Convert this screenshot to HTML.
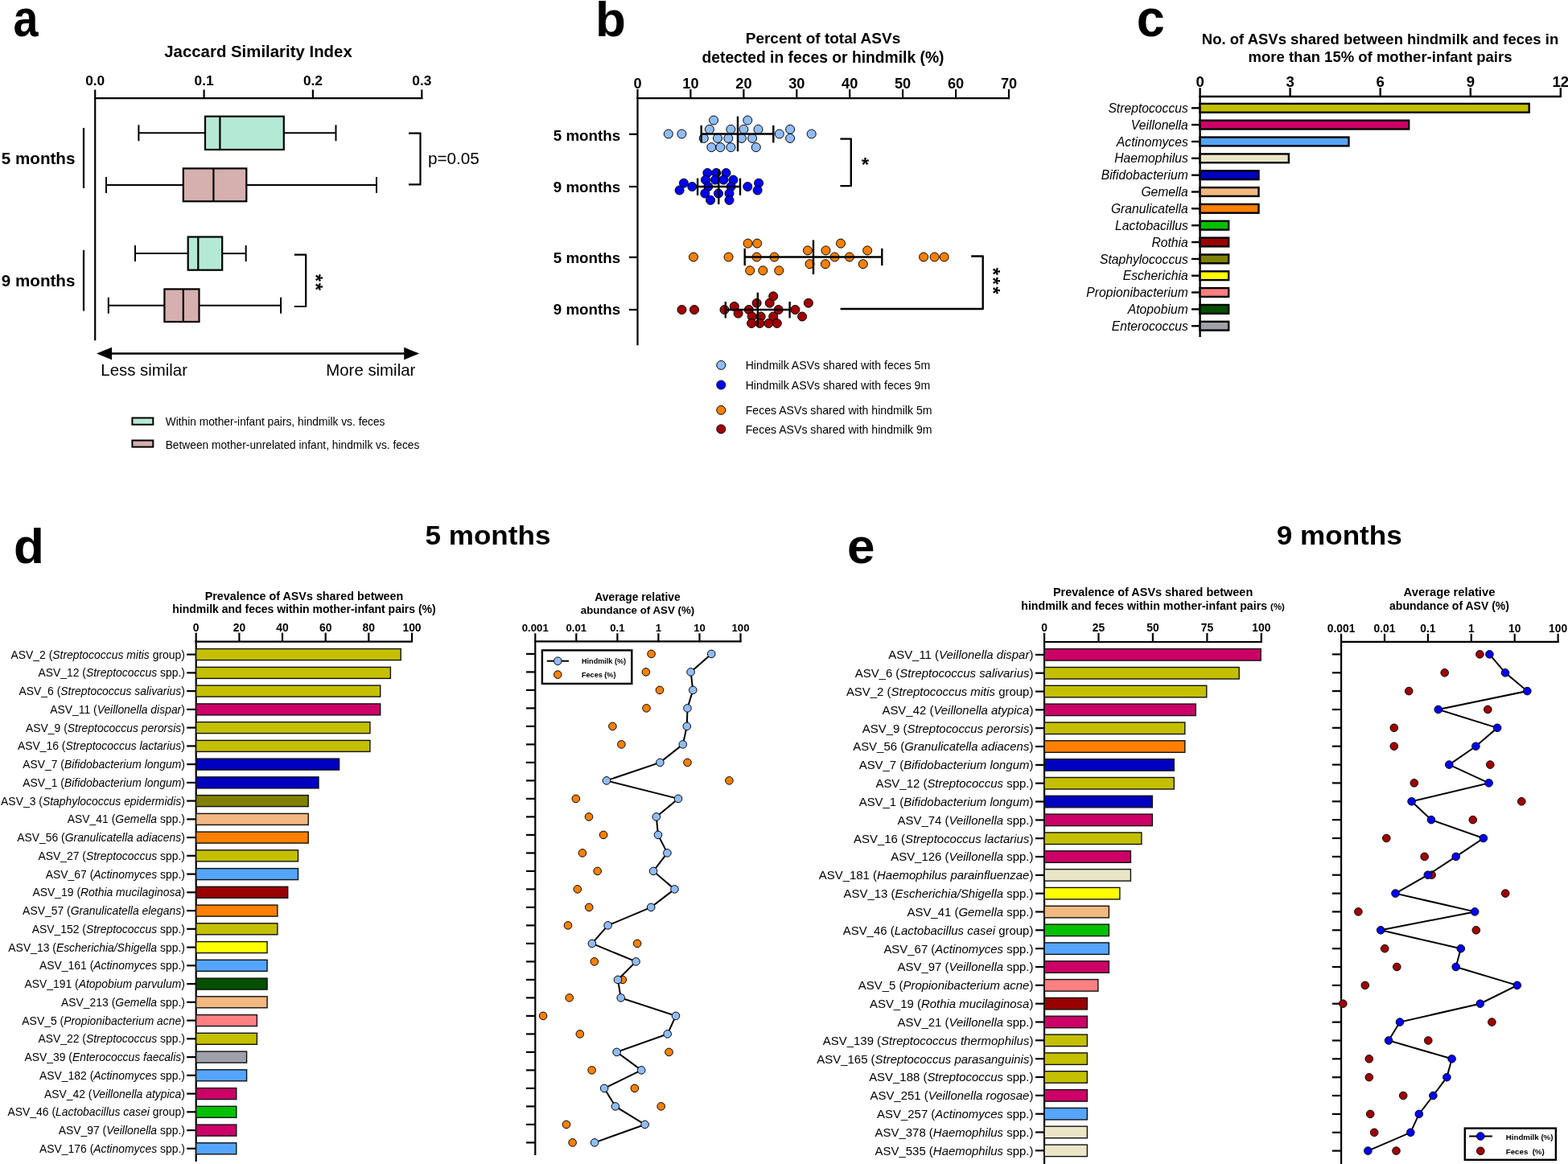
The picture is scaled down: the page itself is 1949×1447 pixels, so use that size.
<!DOCTYPE html>
<html><head><meta charset="utf-8"><title>Figure</title>
<style>html,body{margin:0;padding:0;background:#fff;} svg{display:block;} text{font-family:"Liberation Sans",Arial,sans-serif;fill:#000;}</style>
</head><body>
<svg width="1949" height="1447" viewBox="0 0 1949 1447">
<rect width="1949" height="1447" fill="#fff"/>
<text x="0" y="0" font-size="64" font-weight="bold" transform="translate(16.5,45.3) scale(0.87,1)">a</text>
<text x="321.0" y="70.8" font-size="20.4" font-weight="bold" text-anchor="middle">Jaccard Similarity Index</text>
<line x1="117.2" y1="122.2" x2="525.3" y2="122.2" stroke="#000" stroke-width="2.2"/>
<line x1="118.2" y1="111.5" x2="118.2" y2="123.0" stroke="#000" stroke-width="2.2"/>
<text x="118.2" y="105.9" font-size="17.3" font-weight="bold" text-anchor="middle">0.0</text>
<line x1="253.6" y1="111.5" x2="253.6" y2="123.0" stroke="#000" stroke-width="2.2"/>
<text x="253.6" y="105.9" font-size="17.3" font-weight="bold" text-anchor="middle">0.1</text>
<line x1="388.9" y1="111.5" x2="388.9" y2="123.0" stroke="#000" stroke-width="2.2"/>
<text x="388.9" y="105.9" font-size="17.3" font-weight="bold" text-anchor="middle">0.2</text>
<line x1="524.3" y1="111.5" x2="524.3" y2="123.0" stroke="#000" stroke-width="2.2"/>
<text x="524.3" y="105.9" font-size="17.3" font-weight="bold" text-anchor="middle">0.3</text>
<line x1="118.2" y1="121.0" x2="118.2" y2="423.2" stroke="#000" stroke-width="2.2"/>
<line x1="172.4" y1="165.3" x2="255.0" y2="165.3" stroke="#000" stroke-width="2"/>
<line x1="352.8" y1="165.3" x2="417.5" y2="165.3" stroke="#000" stroke-width="2"/>
<line x1="172.4" y1="155.3" x2="172.4" y2="175.3" stroke="#000" stroke-width="2"/>
<line x1="417.5" y1="155.3" x2="417.5" y2="175.3" stroke="#000" stroke-width="2"/>
<rect x="255.0" y="144.7" width="97.8" height="41.3" fill="#B4E9D5" stroke="#000" stroke-width="2.2"/>
<line x1="273.4" y1="144.7" x2="273.4" y2="186.0" stroke="#000" stroke-width="2.2"/>
<line x1="132.0" y1="229.9" x2="227.8" y2="229.9" stroke="#000" stroke-width="2"/>
<line x1="306.3" y1="229.9" x2="468.0" y2="229.9" stroke="#000" stroke-width="2"/>
<line x1="132.0" y1="219.9" x2="132.0" y2="239.9" stroke="#000" stroke-width="2"/>
<line x1="468.0" y1="219.9" x2="468.0" y2="239.9" stroke="#000" stroke-width="2"/>
<rect x="227.8" y="209.4" width="78.5" height="40.9" fill="#D6AFAF" stroke="#000" stroke-width="2.2"/>
<line x1="265.4" y1="209.4" x2="265.4" y2="250.3" stroke="#000" stroke-width="2.2"/>
<line x1="168.0" y1="315.1" x2="233.7" y2="315.1" stroke="#000" stroke-width="2"/>
<line x1="276.2" y1="315.1" x2="305.7" y2="315.1" stroke="#000" stroke-width="2"/>
<line x1="168.0" y1="305.1" x2="168.0" y2="325.1" stroke="#000" stroke-width="2"/>
<line x1="305.7" y1="305.1" x2="305.7" y2="325.1" stroke="#000" stroke-width="2"/>
<rect x="233.7" y="294.5" width="42.5" height="41.2" fill="#B4E9D5" stroke="#000" stroke-width="2.2"/>
<line x1="246.3" y1="294.5" x2="246.3" y2="335.7" stroke="#000" stroke-width="2.2"/>
<line x1="134.8" y1="379.7" x2="204.4" y2="379.7" stroke="#000" stroke-width="2"/>
<line x1="247.5" y1="379.7" x2="349.1" y2="379.7" stroke="#000" stroke-width="2"/>
<line x1="134.8" y1="369.7" x2="134.8" y2="389.7" stroke="#000" stroke-width="2"/>
<line x1="349.1" y1="369.7" x2="349.1" y2="389.7" stroke="#000" stroke-width="2"/>
<rect x="204.4" y="359.4" width="43.1" height="40.6" fill="#D6AFAF" stroke="#000" stroke-width="2.2"/>
<line x1="227.8" y1="359.4" x2="227.8" y2="400.0" stroke="#000" stroke-width="2.2"/>
<text x="93.4" y="203.9" font-size="20.6" font-weight="bold" text-anchor="end">5 months</text>
<text x="93.4" y="356.2" font-size="20.6" font-weight="bold" text-anchor="end">9 months</text>
<line x1="104.0" y1="159.0" x2="104.0" y2="234.0" stroke="#000" stroke-width="2.2"/>
<line x1="104.0" y1="310.8" x2="104.0" y2="386.5" stroke="#000" stroke-width="2.2"/>
<path d="M508,165.6 H522.5 V229.4 H508" fill="none" stroke="#000" stroke-width="2.2" stroke-linejoin="round"/>
<text x="532.0" y="203.8" font-size="20.7" text-anchor="start">p=0.05</text>
<path d="M365.8,316.6 H380.2 V381 H365.8" fill="none" stroke="#000" stroke-width="2.2" stroke-linejoin="round"/>
<text x="0" y="0" font-size="24" font-weight="bold" text-anchor="middle" transform="translate(383.5,345.5) rotate(90)" dy="0">*</text>
<text x="0" y="0" font-size="24" font-weight="bold" text-anchor="middle" transform="translate(383.5,356.5) rotate(90)" dy="0">*</text>
<line x1="136.0" y1="439.5" x2="505.0" y2="439.5" stroke="#000" stroke-width="2.4"/>
<path d="M120,439.5 L139,431.8 L139,447.2 Z" fill="#000"/>
<path d="M521.2,439.5 L502.2,431.8 L502.2,447.2 Z" fill="#000"/>
<text x="125.3" y="466.9" font-size="20.4" text-anchor="start">Less similar</text>
<text x="516.3" y="466.9" font-size="20.4" text-anchor="end">More similar</text>
<rect x="164.4" y="519.5" width="25.9" height="8.3" fill="#B4E9D5" stroke="#000" stroke-width="2"/>
<rect x="164.4" y="547.5" width="25.9" height="8.1" fill="#D6AFAF" stroke="#000" stroke-width="2"/>
<text x="205.7" y="528.8" font-size="13.75" text-anchor="start">Within mother-infant pairs, hindmilk vs. feces</text>
<text x="205.7" y="557.7" font-size="13.75" text-anchor="start">Between mother-unrelated infant, hindmilk vs. feces</text>
<text x="740.0" y="45.0" font-size="62" font-weight="bold" text-anchor="start">b</text>
<text x="1023.0" y="54.3" font-size="19" font-weight="bold" text-anchor="middle">Percent of total ASVs</text>
<text x="1023.0" y="77.6" font-size="19.3" font-weight="bold" text-anchor="middle">detected in feces or hindmilk (%)</text>
<line x1="791.5" y1="122.2" x2="1255.0" y2="122.2" stroke="#000" stroke-width="2.2"/>
<line x1="792.5" y1="110.9" x2="792.5" y2="123.0" stroke="#000" stroke-width="2.2"/>
<text x="792.5" y="110.1" font-size="18.2" font-weight="bold" text-anchor="middle">0</text>
<line x1="858.4" y1="110.9" x2="858.4" y2="123.0" stroke="#000" stroke-width="2.2"/>
<text x="858.4" y="110.1" font-size="18.2" font-weight="bold" text-anchor="middle">10</text>
<line x1="924.4" y1="110.9" x2="924.4" y2="123.0" stroke="#000" stroke-width="2.2"/>
<text x="924.4" y="110.1" font-size="18.2" font-weight="bold" text-anchor="middle">20</text>
<line x1="990.3" y1="110.9" x2="990.3" y2="123.0" stroke="#000" stroke-width="2.2"/>
<text x="990.3" y="110.1" font-size="18.2" font-weight="bold" text-anchor="middle">30</text>
<line x1="1056.2" y1="110.9" x2="1056.2" y2="123.0" stroke="#000" stroke-width="2.2"/>
<text x="1056.2" y="110.1" font-size="18.2" font-weight="bold" text-anchor="middle">40</text>
<line x1="1122.1" y1="110.9" x2="1122.1" y2="123.0" stroke="#000" stroke-width="2.2"/>
<text x="1122.1" y="110.1" font-size="18.2" font-weight="bold" text-anchor="middle">50</text>
<line x1="1188.1" y1="110.9" x2="1188.1" y2="123.0" stroke="#000" stroke-width="2.2"/>
<text x="1188.1" y="110.1" font-size="18.2" font-weight="bold" text-anchor="middle">60</text>
<line x1="1254.0" y1="110.9" x2="1254.0" y2="123.0" stroke="#000" stroke-width="2.2"/>
<text x="1254.0" y="110.1" font-size="18.2" font-weight="bold" text-anchor="middle">70</text>
<line x1="792.5" y1="121.0" x2="792.5" y2="429.3" stroke="#000" stroke-width="2.2"/>
<line x1="782.0" y1="166.8" x2="792.5" y2="166.8" stroke="#000" stroke-width="2.2"/>
<text x="771.1" y="174.7" font-size="18.75" font-weight="bold" text-anchor="end">5 months</text>
<line x1="782.0" y1="232.0" x2="792.5" y2="232.0" stroke="#000" stroke-width="2.2"/>
<text x="771.1" y="239.4" font-size="18.75" font-weight="bold" text-anchor="end">9 months</text>
<line x1="782.0" y1="319.8" x2="792.5" y2="319.8" stroke="#000" stroke-width="2.2"/>
<text x="771.1" y="326.8" font-size="18.75" font-weight="bold" text-anchor="end">5 months</text>
<line x1="782.0" y1="385.0" x2="792.5" y2="385.0" stroke="#000" stroke-width="2.2"/>
<text x="771.1" y="391.4" font-size="18.75" font-weight="bold" text-anchor="end">9 months</text>
<circle cx="830.8" cy="166.5" r="5.5" fill="#90BDF8" stroke="#000" stroke-width="1"/>
<circle cx="847.4" cy="166.5" r="5.5" fill="#90BDF8" stroke="#000" stroke-width="1"/>
<circle cx="887.1" cy="149.5" r="5.5" fill="#90BDF8" stroke="#000" stroke-width="1"/>
<circle cx="929.3" cy="149.5" r="5.5" fill="#90BDF8" stroke="#000" stroke-width="1"/>
<circle cx="881.9" cy="160.8" r="5.5" fill="#90BDF8" stroke="#000" stroke-width="1"/>
<circle cx="908.4" cy="160.8" r="5.5" fill="#90BDF8" stroke="#000" stroke-width="1"/>
<circle cx="924.4" cy="160.8" r="5.5" fill="#90BDF8" stroke="#000" stroke-width="1"/>
<circle cx="942.5" cy="160.8" r="5.5" fill="#90BDF8" stroke="#000" stroke-width="1"/>
<circle cx="982.1" cy="160.8" r="5.5" fill="#90BDF8" stroke="#000" stroke-width="1"/>
<circle cx="874.8" cy="171.9" r="5.5" fill="#90BDF8" stroke="#000" stroke-width="1"/>
<circle cx="892.0" cy="171.9" r="5.5" fill="#90BDF8" stroke="#000" stroke-width="1"/>
<circle cx="905.3" cy="171.9" r="5.5" fill="#90BDF8" stroke="#000" stroke-width="1"/>
<circle cx="921.9" cy="171.9" r="5.5" fill="#90BDF8" stroke="#000" stroke-width="1"/>
<circle cx="935.1" cy="171.9" r="5.5" fill="#90BDF8" stroke="#000" stroke-width="1"/>
<circle cx="968.8" cy="166.5" r="5.5" fill="#90BDF8" stroke="#000" stroke-width="1"/>
<circle cx="982.1" cy="171.9" r="5.5" fill="#90BDF8" stroke="#000" stroke-width="1"/>
<circle cx="1008.7" cy="166.5" r="5.5" fill="#90BDF8" stroke="#000" stroke-width="1"/>
<circle cx="884.3" cy="183.1" r="5.5" fill="#90BDF8" stroke="#000" stroke-width="1"/>
<circle cx="895.4" cy="183.1" r="5.5" fill="#90BDF8" stroke="#000" stroke-width="1"/>
<circle cx="908.4" cy="183.1" r="5.5" fill="#90BDF8" stroke="#000" stroke-width="1"/>
<circle cx="939.8" cy="183.1" r="5.5" fill="#90BDF8" stroke="#000" stroke-width="1"/>
<circle cx="879.4" cy="215.0" r="5.5" fill="#0000FF" stroke="#000" stroke-width="1"/>
<circle cx="890.2" cy="215.0" r="5.5" fill="#0000FF" stroke="#000" stroke-width="1"/>
<circle cx="902.5" cy="215.0" r="5.5" fill="#0000FF" stroke="#000" stroke-width="1"/>
<circle cx="877.0" cy="223.6" r="5.5" fill="#0000FF" stroke="#000" stroke-width="1"/>
<circle cx="889.0" cy="223.6" r="5.5" fill="#0000FF" stroke="#000" stroke-width="1"/>
<circle cx="899.4" cy="223.6" r="5.5" fill="#0000FF" stroke="#000" stroke-width="1"/>
<circle cx="911.4" cy="223.6" r="5.5" fill="#0000FF" stroke="#000" stroke-width="1"/>
<circle cx="849.9" cy="227.7" r="5.5" fill="#0000FF" stroke="#000" stroke-width="1"/>
<circle cx="860.3" cy="232.0" r="5.5" fill="#0000FF" stroke="#000" stroke-width="1"/>
<circle cx="880.3" cy="232.0" r="5.5" fill="#0000FF" stroke="#000" stroke-width="1"/>
<circle cx="908.7" cy="232.0" r="5.5" fill="#0000FF" stroke="#000" stroke-width="1"/>
<circle cx="929.3" cy="232.0" r="5.5" fill="#0000FF" stroke="#000" stroke-width="1"/>
<circle cx="943.1" cy="227.7" r="5.5" fill="#0000FF" stroke="#000" stroke-width="1"/>
<circle cx="844.6" cy="236.5" r="5.5" fill="#0000FF" stroke="#000" stroke-width="1"/>
<circle cx="876.3" cy="240.5" r="5.5" fill="#0000FF" stroke="#000" stroke-width="1"/>
<circle cx="893.0" cy="240.5" r="5.5" fill="#0000FF" stroke="#000" stroke-width="1"/>
<circle cx="906.5" cy="240.5" r="5.5" fill="#0000FF" stroke="#000" stroke-width="1"/>
<circle cx="941.6" cy="236.5" r="5.5" fill="#0000FF" stroke="#000" stroke-width="1"/>
<circle cx="883.1" cy="248.8" r="5.5" fill="#0000FF" stroke="#000" stroke-width="1"/>
<circle cx="906.5" cy="248.8" r="5.5" fill="#0000FF" stroke="#000" stroke-width="1"/>
<circle cx="862.0" cy="319.5" r="5.5" fill="#FF8000" stroke="#000" stroke-width="1"/>
<circle cx="905.6" cy="319.5" r="5.5" fill="#FF8000" stroke="#000" stroke-width="1"/>
<circle cx="929.6" cy="302.6" r="5.5" fill="#FF8000" stroke="#000" stroke-width="1"/>
<circle cx="941.2" cy="302.6" r="5.5" fill="#FF8000" stroke="#000" stroke-width="1"/>
<circle cx="940.6" cy="319.5" r="5.5" fill="#FF8000" stroke="#000" stroke-width="1"/>
<circle cx="962.5" cy="319.5" r="5.5" fill="#FF8000" stroke="#000" stroke-width="1"/>
<circle cx="932.2" cy="336.3" r="5.5" fill="#FF8000" stroke="#000" stroke-width="1"/>
<circle cx="948.3" cy="336.3" r="5.5" fill="#FF8000" stroke="#000" stroke-width="1"/>
<circle cx="968.3" cy="336.3" r="5.5" fill="#FF8000" stroke="#000" stroke-width="1"/>
<circle cx="1003.9" cy="311.4" r="5.5" fill="#FF8000" stroke="#000" stroke-width="1"/>
<circle cx="1026.5" cy="311.4" r="5.5" fill="#FF8000" stroke="#000" stroke-width="1"/>
<circle cx="1045.0" cy="302.6" r="5.5" fill="#FF8000" stroke="#000" stroke-width="1"/>
<circle cx="1078.2" cy="311.4" r="5.5" fill="#FF8000" stroke="#000" stroke-width="1"/>
<circle cx="1037.5" cy="319.5" r="5.5" fill="#FF8000" stroke="#000" stroke-width="1"/>
<circle cx="1055.9" cy="319.5" r="5.5" fill="#FF8000" stroke="#000" stroke-width="1"/>
<circle cx="1006.5" cy="328.2" r="5.5" fill="#FF8000" stroke="#000" stroke-width="1"/>
<circle cx="1025.9" cy="328.2" r="5.5" fill="#FF8000" stroke="#000" stroke-width="1"/>
<circle cx="1072.8" cy="328.2" r="5.5" fill="#FF8000" stroke="#000" stroke-width="1"/>
<circle cx="1148.1" cy="319.5" r="5.5" fill="#FF8000" stroke="#000" stroke-width="1"/>
<circle cx="1161.6" cy="319.5" r="5.5" fill="#FF8000" stroke="#000" stroke-width="1"/>
<circle cx="1173.6" cy="319.5" r="5.5" fill="#FF8000" stroke="#000" stroke-width="1"/>
<circle cx="847.5" cy="385.0" r="5.5" fill="#A00000" stroke="#000" stroke-width="1"/>
<circle cx="863.0" cy="385.0" r="5.5" fill="#A00000" stroke="#000" stroke-width="1"/>
<circle cx="900.5" cy="385.0" r="5.5" fill="#A00000" stroke="#000" stroke-width="1"/>
<circle cx="912.8" cy="380.9" r="5.5" fill="#A00000" stroke="#000" stroke-width="1"/>
<circle cx="917.6" cy="389.6" r="5.5" fill="#A00000" stroke="#000" stroke-width="1"/>
<circle cx="930.9" cy="385.0" r="5.5" fill="#A00000" stroke="#000" stroke-width="1"/>
<circle cx="940.6" cy="376.7" r="5.5" fill="#A00000" stroke="#000" stroke-width="1"/>
<circle cx="956.7" cy="376.7" r="5.5" fill="#A00000" stroke="#000" stroke-width="1"/>
<circle cx="961.2" cy="368.3" r="5.5" fill="#A00000" stroke="#000" stroke-width="1"/>
<circle cx="967.7" cy="385.0" r="5.5" fill="#A00000" stroke="#000" stroke-width="1"/>
<circle cx="934.7" cy="393.5" r="5.5" fill="#A00000" stroke="#000" stroke-width="1"/>
<circle cx="945.7" cy="393.5" r="5.5" fill="#A00000" stroke="#000" stroke-width="1"/>
<circle cx="961.2" cy="393.5" r="5.5" fill="#A00000" stroke="#000" stroke-width="1"/>
<circle cx="934.1" cy="401.9" r="5.5" fill="#A00000" stroke="#000" stroke-width="1"/>
<circle cx="944.4" cy="401.9" r="5.5" fill="#A00000" stroke="#000" stroke-width="1"/>
<circle cx="955.4" cy="401.9" r="5.5" fill="#A00000" stroke="#000" stroke-width="1"/>
<circle cx="965.8" cy="401.9" r="5.5" fill="#A00000" stroke="#000" stroke-width="1"/>
<circle cx="988.4" cy="385.0" r="5.5" fill="#A00000" stroke="#000" stroke-width="1"/>
<circle cx="1004.9" cy="376.7" r="5.5" fill="#A00000" stroke="#000" stroke-width="1"/>
<circle cx="997.1" cy="393.5" r="5.5" fill="#A00000" stroke="#000" stroke-width="1"/>
<line x1="917.0" y1="144.6" x2="917.0" y2="188.2" stroke="#000" stroke-width="2.4"/>
<line x1="871.7" y1="166.5" x2="961.3" y2="166.5" stroke="#000" stroke-width="2.4"/>
<line x1="871.7" y1="155.9" x2="871.7" y2="177.4" stroke="#000" stroke-width="2.4"/>
<line x1="961.3" y1="155.9" x2="961.3" y2="177.4" stroke="#000" stroke-width="2.4"/>
<line x1="893.3" y1="210.0" x2="893.3" y2="253.9" stroke="#000" stroke-width="2.4"/>
<line x1="867.1" y1="232.0" x2="920.0" y2="232.0" stroke="#000" stroke-width="2.4"/>
<line x1="867.1" y1="221.6" x2="867.1" y2="242.8" stroke="#000" stroke-width="2.4"/>
<line x1="920.0" y1="221.6" x2="920.0" y2="242.8" stroke="#000" stroke-width="2.4"/>
<line x1="1011.0" y1="298.4" x2="1011.0" y2="341.1" stroke="#000" stroke-width="2.4"/>
<line x1="925.7" y1="319.5" x2="1096.3" y2="319.5" stroke="#000" stroke-width="2.4"/>
<line x1="925.7" y1="308.8" x2="925.7" y2="330.1" stroke="#000" stroke-width="2.4"/>
<line x1="1096.3" y1="308.8" x2="1096.3" y2="330.1" stroke="#000" stroke-width="2.4"/>
<line x1="941.8" y1="363.7" x2="941.8" y2="405.7" stroke="#000" stroke-width="2.4"/>
<line x1="901.8" y1="385.0" x2="981.6" y2="385.0" stroke="#000" stroke-width="2.4"/>
<line x1="901.8" y1="375.0" x2="901.8" y2="395.4" stroke="#000" stroke-width="2.4"/>
<line x1="981.6" y1="375.0" x2="981.6" y2="395.4" stroke="#000" stroke-width="2.4"/>
<path d="M1044.4,172.6 H1057.8 V231.1 H1044.4" fill="none" stroke="#000" stroke-width="2.4" stroke-linejoin="round"/>
<text x="1075.5" y="213.4" font-size="24" font-weight="bold" text-anchor="middle">*</text>
<path d="M1207.2,318.5 H1221.7 V384 H1044.6" fill="none" stroke="#000" stroke-width="2.4" stroke-linejoin="round"/>
<text x="0" y="0" font-size="24" font-weight="bold" text-anchor="middle" transform="translate(1225.5,337.4) rotate(90)" dy="0">*</text>
<text x="0" y="0" font-size="24" font-weight="bold" text-anchor="middle" transform="translate(1225.5,349.2) rotate(90)" dy="0">*</text>
<text x="0" y="0" font-size="24" font-weight="bold" text-anchor="middle" transform="translate(1225.5,361.0) rotate(90)" dy="0">*</text>
<circle cx="896.3" cy="453.9" r="5.5" fill="#90BDF8" stroke="#000" stroke-width="1"/>
<text x="926.7" y="459.0" font-size="14.1" text-anchor="start">Hindmilk ASVs shared with feces 5m</text>
<circle cx="896.3" cy="478.5" r="5.5" fill="#0000FF" stroke="#000" stroke-width="1"/>
<text x="926.7" y="483.6" font-size="14.1" text-anchor="start">Hindmilk ASVs shared with feces 9m</text>
<circle cx="896.3" cy="509.8" r="5.5" fill="#FF8000" stroke="#000" stroke-width="1"/>
<text x="926.7" y="514.9" font-size="14.1" text-anchor="start">Feces ASVs shared with hindmilk 5m</text>
<circle cx="896.3" cy="533.4" r="5.5" fill="#A00000" stroke="#000" stroke-width="1"/>
<text x="926.7" y="538.5" font-size="14.1" text-anchor="start">Feces ASVs shared with hindmilk 9m</text>
<text x="0" y="0" font-size="64" font-weight="bold" transform="translate(1412.8,44.6) scale(0.985,1)">c</text>
<text x="1715.5" y="54.6" font-size="18.5" font-weight="bold" text-anchor="middle">No. of ASVs shared between hindmilk and feces in</text>
<text x="1715.5" y="77.0" font-size="18.5" font-weight="bold" text-anchor="middle">more than 15% of mother-infant pairs</text>
<line x1="1490.6" y1="120.0" x2="1940.8" y2="120.0" stroke="#000" stroke-width="2.4"/>
<line x1="1491.6" y1="109.2" x2="1491.6" y2="121.0" stroke="#000" stroke-width="2.4"/>
<text x="1491.6" y="108.0" font-size="18.6" font-weight="bold" text-anchor="middle">0</text>
<line x1="1603.6" y1="109.2" x2="1603.6" y2="121.0" stroke="#000" stroke-width="2.4"/>
<text x="1603.6" y="108.0" font-size="18.6" font-weight="bold" text-anchor="middle">3</text>
<line x1="1715.7" y1="109.2" x2="1715.7" y2="121.0" stroke="#000" stroke-width="2.4"/>
<text x="1715.7" y="108.0" font-size="18.6" font-weight="bold" text-anchor="middle">6</text>
<line x1="1827.8" y1="109.2" x2="1827.8" y2="121.0" stroke="#000" stroke-width="2.4"/>
<text x="1827.8" y="108.0" font-size="18.6" font-weight="bold" text-anchor="middle">9</text>
<line x1="1939.8" y1="109.2" x2="1939.8" y2="121.0" stroke="#000" stroke-width="2.4"/>
<text x="1939.8" y="108.0" font-size="18.6" font-weight="bold" text-anchor="middle">12</text>
<line x1="1491.6" y1="119.0" x2="1491.6" y2="419.1" stroke="#000" stroke-width="2.4"/>
<line x1="1481.0" y1="134.3" x2="1491.6" y2="134.3" stroke="#000" stroke-width="2.4"/>
<rect x="1491.6" y="128.9" width="409.1" height="10.8" fill="#C4C000" stroke="#000" stroke-width="2.4"/>
<text x="1476.8" y="139.9" font-size="15.7" font-style="italic" text-anchor="end">Streptococcus</text>
<line x1="1481.0" y1="155.1" x2="1491.6" y2="155.1" stroke="#000" stroke-width="2.4"/>
<rect x="1491.6" y="149.7" width="259.6" height="10.8" fill="#CC0066" stroke="#000" stroke-width="2.4"/>
<text x="1476.8" y="160.7" font-size="15.7" font-style="italic" text-anchor="end">Veillonella</text>
<line x1="1481.0" y1="176.0" x2="1491.6" y2="176.0" stroke="#000" stroke-width="2.4"/>
<rect x="1491.6" y="170.6" width="184.9" height="10.8" fill="#55A5FF" stroke="#000" stroke-width="2.4"/>
<text x="1476.8" y="181.6" font-size="15.7" font-style="italic" text-anchor="end">Actinomyces</text>
<line x1="1481.0" y1="196.8" x2="1491.6" y2="196.8" stroke="#000" stroke-width="2.4"/>
<rect x="1491.6" y="191.4" width="110.3" height="10.8" fill="#EBE5C8" stroke="#000" stroke-width="2.4"/>
<text x="1476.8" y="202.4" font-size="15.7" font-style="italic" text-anchor="end">Haemophilus</text>
<line x1="1481.0" y1="217.7" x2="1491.6" y2="217.7" stroke="#000" stroke-width="2.4"/>
<rect x="1491.6" y="212.3" width="72.9" height="10.8" fill="#0000C0" stroke="#000" stroke-width="2.4"/>
<text x="1476.8" y="223.3" font-size="15.7" font-style="italic" text-anchor="end">Bifidobacterium</text>
<line x1="1481.0" y1="238.5" x2="1491.6" y2="238.5" stroke="#000" stroke-width="2.4"/>
<rect x="1491.6" y="233.1" width="72.9" height="10.8" fill="#F2B880" stroke="#000" stroke-width="2.4"/>
<text x="1476.8" y="244.1" font-size="15.7" font-style="italic" text-anchor="end">Gemella</text>
<line x1="1481.0" y1="259.3" x2="1491.6" y2="259.3" stroke="#000" stroke-width="2.4"/>
<rect x="1491.6" y="253.9" width="72.9" height="10.8" fill="#FF8000" stroke="#000" stroke-width="2.4"/>
<text x="1476.8" y="264.9" font-size="15.7" font-style="italic" text-anchor="end">Granulicatella</text>
<line x1="1481.0" y1="280.2" x2="1491.6" y2="280.2" stroke="#000" stroke-width="2.4"/>
<rect x="1491.6" y="274.8" width="35.6" height="10.8" fill="#00C000" stroke="#000" stroke-width="2.4"/>
<text x="1476.8" y="285.8" font-size="15.7" font-style="italic" text-anchor="end">Lactobacillus</text>
<line x1="1481.0" y1="301.0" x2="1491.6" y2="301.0" stroke="#000" stroke-width="2.4"/>
<rect x="1491.6" y="295.6" width="35.6" height="10.8" fill="#990000" stroke="#000" stroke-width="2.4"/>
<text x="1476.8" y="306.6" font-size="15.7" font-style="italic" text-anchor="end">Rothia</text>
<line x1="1481.0" y1="321.9" x2="1491.6" y2="321.9" stroke="#000" stroke-width="2.4"/>
<rect x="1491.6" y="316.5" width="35.6" height="10.8" fill="#808000" stroke="#000" stroke-width="2.4"/>
<text x="1476.8" y="327.5" font-size="15.7" font-style="italic" text-anchor="end">Staphylococcus</text>
<line x1="1481.0" y1="342.7" x2="1491.6" y2="342.7" stroke="#000" stroke-width="2.4"/>
<rect x="1491.6" y="337.3" width="35.6" height="10.8" fill="#FFFF00" stroke="#000" stroke-width="2.4"/>
<text x="1476.8" y="348.3" font-size="15.7" font-style="italic" text-anchor="end">Escherichia</text>
<line x1="1481.0" y1="363.5" x2="1491.6" y2="363.5" stroke="#000" stroke-width="2.4"/>
<rect x="1491.6" y="358.1" width="35.6" height="10.8" fill="#FF8080" stroke="#000" stroke-width="2.4"/>
<text x="1476.8" y="369.1" font-size="15.7" font-style="italic" text-anchor="end">Propionibacterium</text>
<line x1="1481.0" y1="384.4" x2="1491.6" y2="384.4" stroke="#000" stroke-width="2.4"/>
<rect x="1491.6" y="379.0" width="35.6" height="10.8" fill="#005000" stroke="#000" stroke-width="2.4"/>
<text x="1476.8" y="390.0" font-size="15.7" font-style="italic" text-anchor="end">Atopobium</text>
<line x1="1481.0" y1="405.2" x2="1491.6" y2="405.2" stroke="#000" stroke-width="2.4"/>
<rect x="1491.6" y="399.8" width="35.6" height="10.8" fill="#A0A0A8" stroke="#000" stroke-width="2.4"/>
<text x="1476.8" y="410.8" font-size="15.7" font-style="italic" text-anchor="end">Enterococcus</text>
<text x="17.0" y="700.0" font-size="62" font-weight="bold" text-anchor="start">d</text>
<text x="0" y="0" font-size="33.6" font-weight="bold" transform="translate(528.4,677.3) scale(1.045,1)">5 months</text>
<text x="378.0" y="745.5" font-size="14.35" font-weight="bold" text-anchor="middle">Prevalence of ASVs shared between</text>
<text x="378.0" y="762.2" font-size="14.0" font-weight="bold" text-anchor="middle">hindmilk and feces within mother-infant pairs (%)</text>
<line x1="242.7" y1="797.6" x2="513.0" y2="797.6" stroke="#000" stroke-width="2.2"/>
<line x1="243.7" y1="786.6" x2="243.7" y2="798.0" stroke="#000" stroke-width="2.2"/>
<text x="243.7" y="785.1" font-size="13.9" font-weight="bold" text-anchor="middle">0</text>
<line x1="297.4" y1="786.6" x2="297.4" y2="798.0" stroke="#000" stroke-width="2.2"/>
<text x="297.4" y="785.1" font-size="13.9" font-weight="bold" text-anchor="middle">20</text>
<line x1="351.0" y1="786.6" x2="351.0" y2="798.0" stroke="#000" stroke-width="2.2"/>
<text x="351.0" y="785.1" font-size="13.9" font-weight="bold" text-anchor="middle">40</text>
<line x1="404.7" y1="786.6" x2="404.7" y2="798.0" stroke="#000" stroke-width="2.2"/>
<text x="404.7" y="785.1" font-size="13.9" font-weight="bold" text-anchor="middle">60</text>
<line x1="458.3" y1="786.6" x2="458.3" y2="798.0" stroke="#000" stroke-width="2.2"/>
<text x="458.3" y="785.1" font-size="13.9" font-weight="bold" text-anchor="middle">80</text>
<line x1="512.0" y1="786.6" x2="512.0" y2="798.0" stroke="#000" stroke-width="2.2"/>
<text x="512.0" y="785.1" font-size="13.9" font-weight="bold" text-anchor="middle">100</text>
<line x1="243.7" y1="796.0" x2="243.7" y2="1444.0" stroke="#000" stroke-width="2.2"/>
<line x1="232.2" y1="813.6" x2="243.7" y2="813.6" stroke="#000" stroke-width="2.2"/>
<rect x="243.7" y="806.6" width="254.5" height="14.0" fill="#C4C000" stroke="#111" stroke-width="1.4"/>
<text x="229.9" y="818.6" font-size="13.92" text-anchor="end">ASV_2 (<tspan font-style="italic">Streptococcus mitis</tspan> group)</text>
<line x1="232.2" y1="836.4" x2="243.7" y2="836.4" stroke="#000" stroke-width="2.2"/>
<rect x="243.7" y="829.4" width="241.7" height="14.0" fill="#C4C000" stroke="#111" stroke-width="1.4"/>
<text x="229.9" y="841.4" font-size="13.92" text-anchor="end">ASV_12 (<tspan font-style="italic">Streptococcus</tspan> spp.)</text>
<line x1="232.2" y1="859.1" x2="243.7" y2="859.1" stroke="#000" stroke-width="2.2"/>
<rect x="243.7" y="852.1" width="229.0" height="14.0" fill="#C4C000" stroke="#111" stroke-width="1.4"/>
<text x="229.9" y="864.1" font-size="13.92" text-anchor="end">ASV_6 (<tspan font-style="italic">Streptococcus salivarius</tspan>)</text>
<line x1="232.2" y1="881.9" x2="243.7" y2="881.9" stroke="#000" stroke-width="2.2"/>
<rect x="243.7" y="874.9" width="229.0" height="14.0" fill="#CC0066" stroke="#111" stroke-width="1.4"/>
<text x="229.9" y="886.9" font-size="13.92" text-anchor="end">ASV_11 (<tspan font-style="italic">Veillonella dispar</tspan>)</text>
<line x1="232.2" y1="904.6" x2="243.7" y2="904.6" stroke="#000" stroke-width="2.2"/>
<rect x="243.7" y="897.6" width="216.2" height="14.0" fill="#C4C000" stroke="#111" stroke-width="1.4"/>
<text x="229.9" y="909.6" font-size="13.92" text-anchor="end">ASV_9 (<tspan font-style="italic">Streptococcus perorsis</tspan>)</text>
<line x1="232.2" y1="927.4" x2="243.7" y2="927.4" stroke="#000" stroke-width="2.2"/>
<rect x="243.7" y="920.4" width="216.2" height="14.0" fill="#C4C000" stroke="#111" stroke-width="1.4"/>
<text x="229.9" y="932.4" font-size="13.92" text-anchor="end">ASV_16 (<tspan font-style="italic">Streptococcus lactarius</tspan>)</text>
<line x1="232.2" y1="950.1" x2="243.7" y2="950.1" stroke="#000" stroke-width="2.2"/>
<rect x="243.7" y="943.1" width="177.9" height="14.0" fill="#0000C0" stroke="#111" stroke-width="1.4"/>
<text x="229.9" y="955.1" font-size="13.92" text-anchor="end">ASV_7 (<tspan font-style="italic">Bifidobacterium longum</tspan>)</text>
<line x1="232.2" y1="972.9" x2="243.7" y2="972.9" stroke="#000" stroke-width="2.2"/>
<rect x="243.7" y="965.9" width="152.3" height="14.0" fill="#0000C0" stroke="#111" stroke-width="1.4"/>
<text x="229.9" y="977.9" font-size="13.92" text-anchor="end">ASV_1 (<tspan font-style="italic">Bifidobacterium longum</tspan>)</text>
<line x1="232.2" y1="995.6" x2="243.7" y2="995.6" stroke="#000" stroke-width="2.2"/>
<rect x="243.7" y="988.6" width="139.5" height="14.0" fill="#808000" stroke="#111" stroke-width="1.4"/>
<text x="229.9" y="1000.6" font-size="13.92" text-anchor="end">ASV_3 (<tspan font-style="italic">Staphylococcus epidermidis</tspan>)</text>
<line x1="232.2" y1="1018.4" x2="243.7" y2="1018.4" stroke="#000" stroke-width="2.2"/>
<rect x="243.7" y="1011.4" width="139.5" height="14.0" fill="#F2B880" stroke="#111" stroke-width="1.4"/>
<text x="229.9" y="1023.4" font-size="13.92" text-anchor="end">ASV_41 (<tspan font-style="italic">Gemella</tspan> spp.)</text>
<line x1="232.2" y1="1041.1" x2="243.7" y2="1041.1" stroke="#000" stroke-width="2.2"/>
<rect x="243.7" y="1034.1" width="139.5" height="14.0" fill="#FF8000" stroke="#111" stroke-width="1.4"/>
<text x="229.9" y="1046.1" font-size="13.92" text-anchor="end">ASV_56 (<tspan font-style="italic">Granulicatella adiacens</tspan>)</text>
<line x1="232.2" y1="1063.8" x2="243.7" y2="1063.8" stroke="#000" stroke-width="2.2"/>
<rect x="243.7" y="1056.8" width="126.8" height="14.0" fill="#C4C000" stroke="#111" stroke-width="1.4"/>
<text x="229.9" y="1068.8" font-size="13.92" text-anchor="end">ASV_27 (<tspan font-style="italic">Streptococcus</tspan> spp.)</text>
<line x1="232.2" y1="1086.6" x2="243.7" y2="1086.6" stroke="#000" stroke-width="2.2"/>
<rect x="243.7" y="1079.6" width="126.8" height="14.0" fill="#55A5FF" stroke="#111" stroke-width="1.4"/>
<text x="229.9" y="1091.6" font-size="13.92" text-anchor="end">ASV_67 (<tspan font-style="italic">Actinomyces</tspan> spp.)</text>
<line x1="232.2" y1="1109.3" x2="243.7" y2="1109.3" stroke="#000" stroke-width="2.2"/>
<rect x="243.7" y="1102.3" width="114.0" height="14.0" fill="#990000" stroke="#111" stroke-width="1.4"/>
<text x="229.9" y="1114.3" font-size="13.92" text-anchor="end">ASV_19 (<tspan font-style="italic">Rothia mucilaginosa</tspan>)</text>
<line x1="232.2" y1="1132.1" x2="243.7" y2="1132.1" stroke="#000" stroke-width="2.2"/>
<rect x="243.7" y="1125.1" width="101.2" height="14.0" fill="#FF8000" stroke="#111" stroke-width="1.4"/>
<text x="229.9" y="1137.1" font-size="13.92" text-anchor="end">ASV_57 (<tspan font-style="italic">Granulicatella elegans</tspan>)</text>
<line x1="232.2" y1="1154.8" x2="243.7" y2="1154.8" stroke="#000" stroke-width="2.2"/>
<rect x="243.7" y="1147.8" width="101.2" height="14.0" fill="#C4C000" stroke="#111" stroke-width="1.4"/>
<text x="229.9" y="1159.8" font-size="13.92" text-anchor="end">ASV_152 (<tspan font-style="italic">Streptococcus</tspan> spp.)</text>
<line x1="232.2" y1="1177.6" x2="243.7" y2="1177.6" stroke="#000" stroke-width="2.2"/>
<rect x="243.7" y="1170.6" width="88.4" height="14.0" fill="#FFFF00" stroke="#111" stroke-width="1.4"/>
<text x="229.9" y="1182.6" font-size="13.92" text-anchor="end">ASV_13 (<tspan font-style="italic">Escherichia/Shigella</tspan> spp.)</text>
<line x1="232.2" y1="1200.3" x2="243.7" y2="1200.3" stroke="#000" stroke-width="2.2"/>
<rect x="243.7" y="1193.3" width="88.4" height="14.0" fill="#55A5FF" stroke="#111" stroke-width="1.4"/>
<text x="229.9" y="1205.3" font-size="13.92" text-anchor="end">ASV_161 (<tspan font-style="italic">Actinomyces</tspan> spp.)</text>
<line x1="232.2" y1="1223.1" x2="243.7" y2="1223.1" stroke="#000" stroke-width="2.2"/>
<rect x="243.7" y="1216.1" width="88.4" height="14.0" fill="#005000" stroke="#111" stroke-width="1.4"/>
<text x="229.9" y="1228.1" font-size="13.92" text-anchor="end">ASV_191 (<tspan font-style="italic">Atopobium parvulum</tspan>)</text>
<line x1="232.2" y1="1245.8" x2="243.7" y2="1245.8" stroke="#000" stroke-width="2.2"/>
<rect x="243.7" y="1238.8" width="88.4" height="14.0" fill="#F2B880" stroke="#111" stroke-width="1.4"/>
<text x="229.9" y="1250.8" font-size="13.92" text-anchor="end">ASV_213 (<tspan font-style="italic">Gemella</tspan> spp.)</text>
<line x1="232.2" y1="1268.6" x2="243.7" y2="1268.6" stroke="#000" stroke-width="2.2"/>
<rect x="243.7" y="1261.6" width="75.7" height="14.0" fill="#FF8080" stroke="#111" stroke-width="1.4"/>
<text x="229.9" y="1273.6" font-size="13.92" text-anchor="end">ASV_5 (<tspan font-style="italic">Propionibacterium acne</tspan>)</text>
<line x1="232.2" y1="1291.3" x2="243.7" y2="1291.3" stroke="#000" stroke-width="2.2"/>
<rect x="243.7" y="1284.3" width="75.7" height="14.0" fill="#C4C000" stroke="#111" stroke-width="1.4"/>
<text x="229.9" y="1296.3" font-size="13.92" text-anchor="end">ASV_22 (<tspan font-style="italic">Streptococcus</tspan> spp.)</text>
<line x1="232.2" y1="1314.1" x2="243.7" y2="1314.1" stroke="#000" stroke-width="2.2"/>
<rect x="243.7" y="1307.1" width="62.9" height="14.0" fill="#A0A0A8" stroke="#111" stroke-width="1.4"/>
<text x="229.9" y="1319.1" font-size="13.92" text-anchor="end">ASV_39 (<tspan font-style="italic">Enterococcus faecalis</tspan>)</text>
<line x1="232.2" y1="1336.8" x2="243.7" y2="1336.8" stroke="#000" stroke-width="2.2"/>
<rect x="243.7" y="1329.8" width="62.9" height="14.0" fill="#55A5FF" stroke="#111" stroke-width="1.4"/>
<text x="229.9" y="1341.8" font-size="13.92" text-anchor="end">ASV_182 (<tspan font-style="italic">Actinomyces</tspan> spp.)</text>
<line x1="232.2" y1="1359.6" x2="243.7" y2="1359.6" stroke="#000" stroke-width="2.2"/>
<rect x="243.7" y="1352.6" width="50.1" height="14.0" fill="#CC0066" stroke="#111" stroke-width="1.4"/>
<text x="229.9" y="1364.6" font-size="13.92" text-anchor="end">ASV_42 (<tspan font-style="italic">Veillonella atypica</tspan>)</text>
<line x1="232.2" y1="1382.3" x2="243.7" y2="1382.3" stroke="#000" stroke-width="2.2"/>
<rect x="243.7" y="1375.3" width="50.1" height="14.0" fill="#00C000" stroke="#111" stroke-width="1.4"/>
<text x="229.9" y="1387.3" font-size="13.92" text-anchor="end">ASV_46 (<tspan font-style="italic">Lactobacillus casei</tspan> group)</text>
<line x1="232.2" y1="1405.1" x2="243.7" y2="1405.1" stroke="#000" stroke-width="2.2"/>
<rect x="243.7" y="1398.1" width="50.1" height="14.0" fill="#CC0066" stroke="#111" stroke-width="1.4"/>
<text x="229.9" y="1410.1" font-size="13.92" text-anchor="end">ASV_97 (<tspan font-style="italic">Veillonella</tspan> spp.)</text>
<line x1="232.2" y1="1427.8" x2="243.7" y2="1427.8" stroke="#000" stroke-width="2.2"/>
<rect x="243.7" y="1420.8" width="50.1" height="14.0" fill="#55A5FF" stroke="#111" stroke-width="1.4"/>
<text x="229.9" y="1432.8" font-size="13.92" text-anchor="end">ASV_176 (<tspan font-style="italic">Actinomyces</tspan> spp.)</text>
<text x="792.5" y="747.0" font-size="13.85" font-weight="bold" text-anchor="middle">Average relative</text>
<text x="792.5" y="762.8" font-size="13.3" font-weight="bold" text-anchor="middle">abundance of ASV (%)</text>
<line x1="664.3" y1="797.3" x2="921.5" y2="797.3" stroke="#000" stroke-width="2.2"/>
<line x1="665.3" y1="787.3" x2="665.3" y2="798.3" stroke="#000" stroke-width="2.2"/>
<text x="665.3" y="784.7" font-size="13.2" font-weight="bold" text-anchor="middle">0.001</text>
<line x1="716.3" y1="787.3" x2="716.3" y2="798.3" stroke="#000" stroke-width="2.2"/>
<text x="716.3" y="784.7" font-size="13.2" font-weight="bold" text-anchor="middle">0.01</text>
<line x1="767.4" y1="787.3" x2="767.4" y2="798.3" stroke="#000" stroke-width="2.2"/>
<text x="767.4" y="784.7" font-size="13.2" font-weight="bold" text-anchor="middle">0.1</text>
<line x1="818.4" y1="787.3" x2="818.4" y2="798.3" stroke="#000" stroke-width="2.2"/>
<text x="818.4" y="784.7" font-size="13.2" font-weight="bold" text-anchor="middle">1</text>
<line x1="869.5" y1="787.3" x2="869.5" y2="798.3" stroke="#000" stroke-width="2.2"/>
<text x="869.5" y="784.7" font-size="13.2" font-weight="bold" text-anchor="middle">10</text>
<line x1="920.5" y1="787.3" x2="920.5" y2="798.3" stroke="#000" stroke-width="2.2"/>
<text x="920.5" y="784.7" font-size="13.2" font-weight="bold" text-anchor="middle">100</text>
<line x1="665.3" y1="796.3" x2="665.3" y2="1436.1" stroke="#000" stroke-width="2.2"/>
<line x1="654.0" y1="812.9" x2="665.3" y2="812.9" stroke="#000" stroke-width="2.2"/>
<line x1="654.0" y1="835.4" x2="665.3" y2="835.4" stroke="#000" stroke-width="2.2"/>
<line x1="654.0" y1="857.9" x2="665.3" y2="857.9" stroke="#000" stroke-width="2.2"/>
<line x1="654.0" y1="880.4" x2="665.3" y2="880.4" stroke="#000" stroke-width="2.2"/>
<line x1="654.0" y1="902.9" x2="665.3" y2="902.9" stroke="#000" stroke-width="2.2"/>
<line x1="654.0" y1="925.4" x2="665.3" y2="925.4" stroke="#000" stroke-width="2.2"/>
<line x1="654.0" y1="947.9" x2="665.3" y2="947.9" stroke="#000" stroke-width="2.2"/>
<line x1="654.0" y1="970.4" x2="665.3" y2="970.4" stroke="#000" stroke-width="2.2"/>
<line x1="654.0" y1="992.9" x2="665.3" y2="992.9" stroke="#000" stroke-width="2.2"/>
<line x1="654.0" y1="1015.4" x2="665.3" y2="1015.4" stroke="#000" stroke-width="2.2"/>
<line x1="654.0" y1="1037.9" x2="665.3" y2="1037.9" stroke="#000" stroke-width="2.2"/>
<line x1="654.0" y1="1060.4" x2="665.3" y2="1060.4" stroke="#000" stroke-width="2.2"/>
<line x1="654.0" y1="1082.9" x2="665.3" y2="1082.9" stroke="#000" stroke-width="2.2"/>
<line x1="654.0" y1="1105.4" x2="665.3" y2="1105.4" stroke="#000" stroke-width="2.2"/>
<line x1="654.0" y1="1127.9" x2="665.3" y2="1127.9" stroke="#000" stroke-width="2.2"/>
<line x1="654.0" y1="1150.4" x2="665.3" y2="1150.4" stroke="#000" stroke-width="2.2"/>
<line x1="654.0" y1="1172.9" x2="665.3" y2="1172.9" stroke="#000" stroke-width="2.2"/>
<line x1="654.0" y1="1195.4" x2="665.3" y2="1195.4" stroke="#000" stroke-width="2.2"/>
<line x1="654.0" y1="1217.9" x2="665.3" y2="1217.9" stroke="#000" stroke-width="2.2"/>
<line x1="654.0" y1="1240.4" x2="665.3" y2="1240.4" stroke="#000" stroke-width="2.2"/>
<line x1="654.0" y1="1262.9" x2="665.3" y2="1262.9" stroke="#000" stroke-width="2.2"/>
<line x1="654.0" y1="1285.4" x2="665.3" y2="1285.4" stroke="#000" stroke-width="2.2"/>
<line x1="654.0" y1="1307.9" x2="665.3" y2="1307.9" stroke="#000" stroke-width="2.2"/>
<line x1="654.0" y1="1330.4" x2="665.3" y2="1330.4" stroke="#000" stroke-width="2.2"/>
<line x1="654.0" y1="1352.9" x2="665.3" y2="1352.9" stroke="#000" stroke-width="2.2"/>
<line x1="654.0" y1="1375.4" x2="665.3" y2="1375.4" stroke="#000" stroke-width="2.2"/>
<line x1="654.0" y1="1397.9" x2="665.3" y2="1397.9" stroke="#000" stroke-width="2.2"/>
<line x1="654.0" y1="1420.4" x2="665.3" y2="1420.4" stroke="#000" stroke-width="2.2"/>
<circle cx="809.6" cy="812.9" r="4.8" fill="#FF8000" stroke="#000" stroke-width="1"/>
<circle cx="802.9" cy="835.4" r="4.8" fill="#FF8000" stroke="#000" stroke-width="1"/>
<circle cx="820.0" cy="857.9" r="4.8" fill="#FF8000" stroke="#000" stroke-width="1"/>
<circle cx="803.5" cy="880.4" r="4.8" fill="#FF8000" stroke="#000" stroke-width="1"/>
<circle cx="761.4" cy="902.9" r="4.8" fill="#FF8000" stroke="#000" stroke-width="1"/>
<circle cx="772.4" cy="925.4" r="4.8" fill="#FF8000" stroke="#000" stroke-width="1"/>
<circle cx="854.5" cy="947.9" r="4.8" fill="#FF8000" stroke="#000" stroke-width="1"/>
<circle cx="906.4" cy="970.4" r="4.8" fill="#FF8000" stroke="#000" stroke-width="1"/>
<circle cx="715.8" cy="992.9" r="4.8" fill="#FF8000" stroke="#000" stroke-width="1"/>
<circle cx="732.0" cy="1015.4" r="4.8" fill="#FF8000" stroke="#000" stroke-width="1"/>
<circle cx="750.1" cy="1037.9" r="4.8" fill="#FF8000" stroke="#000" stroke-width="1"/>
<circle cx="723.9" cy="1060.4" r="4.8" fill="#FF8000" stroke="#000" stroke-width="1"/>
<circle cx="742.7" cy="1082.9" r="4.8" fill="#FF8000" stroke="#000" stroke-width="1"/>
<circle cx="717.8" cy="1105.4" r="4.8" fill="#FF8000" stroke="#000" stroke-width="1"/>
<circle cx="732.2" cy="1127.9" r="4.8" fill="#FF8000" stroke="#000" stroke-width="1"/>
<circle cx="706.0" cy="1150.4" r="4.8" fill="#FF8000" stroke="#000" stroke-width="1"/>
<circle cx="792.1" cy="1172.9" r="4.8" fill="#FF8000" stroke="#000" stroke-width="1"/>
<circle cx="738.8" cy="1195.4" r="4.8" fill="#FF8000" stroke="#000" stroke-width="1"/>
<circle cx="773.8" cy="1217.9" r="4.8" fill="#FF8000" stroke="#000" stroke-width="1"/>
<circle cx="707.7" cy="1240.4" r="4.8" fill="#FF8000" stroke="#000" stroke-width="1"/>
<circle cx="675.1" cy="1262.9" r="4.8" fill="#FF8000" stroke="#000" stroke-width="1"/>
<circle cx="720.8" cy="1285.4" r="4.8" fill="#FF8000" stroke="#000" stroke-width="1"/>
<circle cx="831.5" cy="1307.9" r="4.8" fill="#FF8000" stroke="#000" stroke-width="1"/>
<circle cx="735.6" cy="1330.4" r="4.8" fill="#FF8000" stroke="#000" stroke-width="1"/>
<circle cx="788.9" cy="1352.9" r="4.8" fill="#FF8000" stroke="#000" stroke-width="1"/>
<circle cx="821.7" cy="1375.4" r="4.8" fill="#FF8000" stroke="#000" stroke-width="1"/>
<circle cx="704.0" cy="1397.9" r="4.8" fill="#FF8000" stroke="#000" stroke-width="1"/>
<circle cx="711.6" cy="1420.4" r="4.8" fill="#FF8000" stroke="#000" stroke-width="1"/>
<polyline points="884.2,812.9 858.6,835.4 861.3,857.9 854.5,880.4 853.8,902.9 848.8,925.4 820.4,947.9 753.9,970.4 843.0,992.9 815.8,1015.4 818.0,1037.9 829.4,1060.4 812.1,1082.9 838.5,1105.4 809.2,1127.9 755.6,1150.4 735.9,1172.9 790.5,1195.4 768.0,1217.9 771.7,1240.4 840.0,1262.9 829.7,1285.4 766.6,1307.9 797.2,1330.4 751.1,1352.9 764.9,1375.4 801.6,1397.9 739.1,1420.4" fill="none" stroke="#000" stroke-width="2"/>
<circle cx="884.2" cy="812.9" r="4.8" fill="#90BDF8" stroke="#000" stroke-width="1"/>
<circle cx="858.6" cy="835.4" r="4.8" fill="#90BDF8" stroke="#000" stroke-width="1"/>
<circle cx="861.3" cy="857.9" r="4.8" fill="#90BDF8" stroke="#000" stroke-width="1"/>
<circle cx="854.5" cy="880.4" r="4.8" fill="#90BDF8" stroke="#000" stroke-width="1"/>
<circle cx="853.8" cy="902.9" r="4.8" fill="#90BDF8" stroke="#000" stroke-width="1"/>
<circle cx="848.8" cy="925.4" r="4.8" fill="#90BDF8" stroke="#000" stroke-width="1"/>
<circle cx="820.4" cy="947.9" r="4.8" fill="#90BDF8" stroke="#000" stroke-width="1"/>
<circle cx="753.9" cy="970.4" r="4.8" fill="#90BDF8" stroke="#000" stroke-width="1"/>
<circle cx="843.0" cy="992.9" r="4.8" fill="#90BDF8" stroke="#000" stroke-width="1"/>
<circle cx="815.8" cy="1015.4" r="4.8" fill="#90BDF8" stroke="#000" stroke-width="1"/>
<circle cx="818.0" cy="1037.9" r="4.8" fill="#90BDF8" stroke="#000" stroke-width="1"/>
<circle cx="829.4" cy="1060.4" r="4.8" fill="#90BDF8" stroke="#000" stroke-width="1"/>
<circle cx="812.1" cy="1082.9" r="4.8" fill="#90BDF8" stroke="#000" stroke-width="1"/>
<circle cx="838.5" cy="1105.4" r="4.8" fill="#90BDF8" stroke="#000" stroke-width="1"/>
<circle cx="809.2" cy="1127.9" r="4.8" fill="#90BDF8" stroke="#000" stroke-width="1"/>
<circle cx="755.6" cy="1150.4" r="4.8" fill="#90BDF8" stroke="#000" stroke-width="1"/>
<circle cx="735.9" cy="1172.9" r="4.8" fill="#90BDF8" stroke="#000" stroke-width="1"/>
<circle cx="790.5" cy="1195.4" r="4.8" fill="#90BDF8" stroke="#000" stroke-width="1"/>
<circle cx="768.0" cy="1217.9" r="4.8" fill="#90BDF8" stroke="#000" stroke-width="1"/>
<circle cx="771.7" cy="1240.4" r="4.8" fill="#90BDF8" stroke="#000" stroke-width="1"/>
<circle cx="840.0" cy="1262.9" r="4.8" fill="#90BDF8" stroke="#000" stroke-width="1"/>
<circle cx="829.7" cy="1285.4" r="4.8" fill="#90BDF8" stroke="#000" stroke-width="1"/>
<circle cx="766.6" cy="1307.9" r="4.8" fill="#90BDF8" stroke="#000" stroke-width="1"/>
<circle cx="797.2" cy="1330.4" r="4.8" fill="#90BDF8" stroke="#000" stroke-width="1"/>
<circle cx="751.1" cy="1352.9" r="4.8" fill="#90BDF8" stroke="#000" stroke-width="1"/>
<circle cx="764.9" cy="1375.4" r="4.8" fill="#90BDF8" stroke="#000" stroke-width="1"/>
<circle cx="801.6" cy="1397.9" r="4.8" fill="#90BDF8" stroke="#000" stroke-width="1"/>
<circle cx="739.1" cy="1420.4" r="4.8" fill="#90BDF8" stroke="#000" stroke-width="1"/>
<rect x="673.9" y="808.4" width="111.4" height="41.5" fill="#fff" stroke="#000" stroke-width="2.4"/>
<line x1="679.8" y1="821.7" x2="707.0" y2="821.7" stroke="#000" stroke-width="2"/>
<circle cx="693.3" cy="821.7" r="4.8" fill="#90BDF8" stroke="#000" stroke-width="1"/>
<circle cx="693.3" cy="838.6" r="4.8" fill="#FF8000" stroke="#000" stroke-width="1"/>
<text x="723.0" y="825.1" font-size="9.1" font-weight="bold" text-anchor="start">Hindmilk (%)</text>
<text x="723.0" y="842.2" font-size="9.1" font-weight="bold" text-anchor="start">Feces (%)</text>
<text x="1053.0" y="700.0" font-size="62" font-weight="bold" text-anchor="start">e</text>
<text x="0" y="0" font-size="33.6" font-weight="bold" transform="translate(1586.7,677.3) scale(1.045,1)">9 months</text>
<text x="1433.1" y="741.3" font-size="14.45" font-weight="bold" text-anchor="middle">Prevalence of ASVs shared between</text>
<text x="1433.1" y="757.9" font-size="14.2" font-weight="bold" text-anchor="middle">hindmilk and feces within mother-infant pairs <tspan font-size="11.5">(%)</tspan></text>
<line x1="1297.1" y1="798.0" x2="1568.8" y2="798.0" stroke="#000" stroke-width="2.2"/>
<line x1="1298.1" y1="786.9" x2="1298.1" y2="799.0" stroke="#000" stroke-width="2.2"/>
<text x="1298.1" y="785.4" font-size="13.9" font-weight="bold" text-anchor="middle">0</text>
<line x1="1365.5" y1="786.9" x2="1365.5" y2="799.0" stroke="#000" stroke-width="2.2"/>
<text x="1365.5" y="785.4" font-size="13.9" font-weight="bold" text-anchor="middle">25</text>
<line x1="1432.9" y1="786.9" x2="1432.9" y2="799.0" stroke="#000" stroke-width="2.2"/>
<text x="1432.9" y="785.4" font-size="13.9" font-weight="bold" text-anchor="middle">50</text>
<line x1="1500.4" y1="786.9" x2="1500.4" y2="799.0" stroke="#000" stroke-width="2.2"/>
<text x="1500.4" y="785.4" font-size="13.9" font-weight="bold" text-anchor="middle">75</text>
<line x1="1567.8" y1="786.9" x2="1567.8" y2="799.0" stroke="#000" stroke-width="2.2"/>
<text x="1567.8" y="785.4" font-size="13.9" font-weight="bold" text-anchor="middle">100</text>
<line x1="1298.1" y1="797.0" x2="1298.1" y2="1447.0" stroke="#000" stroke-width="2.2"/>
<line x1="1287.0" y1="813.9" x2="1298.1" y2="813.9" stroke="#000" stroke-width="2.2"/>
<rect x="1298.1" y="806.6" width="269.1" height="14.5" fill="#CC0066" stroke="#111" stroke-width="1.4"/>
<text x="1284.4" y="819.2" font-size="14.95" text-anchor="end">ASV_11 (<tspan font-style="italic">Veillonella dispar</tspan>)</text>
<line x1="1287.0" y1="836.7" x2="1298.1" y2="836.7" stroke="#000" stroke-width="2.2"/>
<rect x="1298.1" y="829.5" width="242.1" height="14.5" fill="#C4C000" stroke="#111" stroke-width="1.4"/>
<text x="1284.4" y="842.0" font-size="14.95" text-anchor="end">ASV_6 (<tspan font-style="italic">Streptococcus salivarius</tspan>)</text>
<line x1="1287.0" y1="859.6" x2="1298.1" y2="859.6" stroke="#000" stroke-width="2.2"/>
<rect x="1298.1" y="852.3" width="201.7" height="14.5" fill="#C4C000" stroke="#111" stroke-width="1.4"/>
<text x="1284.4" y="864.9" font-size="14.95" text-anchor="end">ASV_2 (<tspan font-style="italic">Streptococcus mitis</tspan> group)</text>
<line x1="1287.0" y1="882.4" x2="1298.1" y2="882.4" stroke="#000" stroke-width="2.2"/>
<rect x="1298.1" y="875.1" width="188.2" height="14.5" fill="#CC0066" stroke="#111" stroke-width="1.4"/>
<text x="1284.4" y="887.7" font-size="14.95" text-anchor="end">ASV_42 (<tspan font-style="italic">Veillonella atypica</tspan>)</text>
<line x1="1287.0" y1="905.2" x2="1298.1" y2="905.2" stroke="#000" stroke-width="2.2"/>
<rect x="1298.1" y="898.0" width="174.7" height="14.5" fill="#C4C000" stroke="#111" stroke-width="1.4"/>
<text x="1284.4" y="910.5" font-size="14.95" text-anchor="end">ASV_9 (<tspan font-style="italic">Streptococcus perorsis</tspan>)</text>
<line x1="1287.0" y1="928.0" x2="1298.1" y2="928.0" stroke="#000" stroke-width="2.2"/>
<rect x="1298.1" y="920.8" width="174.7" height="14.5" fill="#FF8000" stroke="#111" stroke-width="1.4"/>
<text x="1284.4" y="933.3" font-size="14.95" text-anchor="end">ASV_56 (<tspan font-style="italic">Granulicatella adiacens</tspan>)</text>
<line x1="1287.0" y1="950.9" x2="1298.1" y2="950.9" stroke="#000" stroke-width="2.2"/>
<rect x="1298.1" y="943.6" width="161.2" height="14.5" fill="#0000C0" stroke="#111" stroke-width="1.4"/>
<text x="1284.4" y="956.2" font-size="14.95" text-anchor="end">ASV_7 (<tspan font-style="italic">Bifidobacterium longum</tspan>)</text>
<line x1="1287.0" y1="973.7" x2="1298.1" y2="973.7" stroke="#000" stroke-width="2.2"/>
<rect x="1298.1" y="966.5" width="161.2" height="14.5" fill="#C4C000" stroke="#111" stroke-width="1.4"/>
<text x="1284.4" y="979.0" font-size="14.95" text-anchor="end">ASV_12 (<tspan font-style="italic">Streptococcus</tspan> spp.)</text>
<line x1="1287.0" y1="996.5" x2="1298.1" y2="996.5" stroke="#000" stroke-width="2.2"/>
<rect x="1298.1" y="989.3" width="134.3" height="14.5" fill="#0000C0" stroke="#111" stroke-width="1.4"/>
<text x="1284.4" y="1001.8" font-size="14.95" text-anchor="end">ASV_1 (<tspan font-style="italic">Bifidobacterium longum</tspan>)</text>
<line x1="1287.0" y1="1019.4" x2="1298.1" y2="1019.4" stroke="#000" stroke-width="2.2"/>
<rect x="1298.1" y="1012.1" width="134.3" height="14.5" fill="#CC0066" stroke="#111" stroke-width="1.4"/>
<text x="1284.4" y="1024.7" font-size="14.95" text-anchor="end">ASV_74 (<tspan font-style="italic">Veillonella</tspan> spp.)</text>
<line x1="1287.0" y1="1042.2" x2="1298.1" y2="1042.2" stroke="#000" stroke-width="2.2"/>
<rect x="1298.1" y="1035.0" width="120.8" height="14.5" fill="#C4C000" stroke="#111" stroke-width="1.4"/>
<text x="1284.4" y="1047.5" font-size="14.95" text-anchor="end">ASV_16 (<tspan font-style="italic">Streptococcus lactarius</tspan>)</text>
<line x1="1287.0" y1="1065.0" x2="1298.1" y2="1065.0" stroke="#000" stroke-width="2.2"/>
<rect x="1298.1" y="1057.8" width="107.3" height="14.5" fill="#CC0066" stroke="#111" stroke-width="1.4"/>
<text x="1284.4" y="1070.3" font-size="14.95" text-anchor="end">ASV_126 (<tspan font-style="italic">Veillonella</tspan> spp.)</text>
<line x1="1287.0" y1="1087.9" x2="1298.1" y2="1087.9" stroke="#000" stroke-width="2.2"/>
<rect x="1298.1" y="1080.6" width="107.3" height="14.5" fill="#EBE5C8" stroke="#111" stroke-width="1.4"/>
<text x="1284.4" y="1093.2" font-size="14.95" text-anchor="end">ASV_181 (<tspan font-style="italic">Haemophilus parainfluenzae</tspan>)</text>
<line x1="1287.0" y1="1110.7" x2="1298.1" y2="1110.7" stroke="#000" stroke-width="2.2"/>
<rect x="1298.1" y="1103.4" width="93.8" height="14.5" fill="#FFFF00" stroke="#111" stroke-width="1.4"/>
<text x="1284.4" y="1116.0" font-size="14.95" text-anchor="end">ASV_13 (<tspan font-style="italic">Escherichia/Shigella</tspan> spp.)</text>
<line x1="1287.0" y1="1133.5" x2="1298.1" y2="1133.5" stroke="#000" stroke-width="2.2"/>
<rect x="1298.1" y="1126.3" width="80.3" height="14.5" fill="#F2B880" stroke="#111" stroke-width="1.4"/>
<text x="1284.4" y="1138.8" font-size="14.95" text-anchor="end">ASV_41 (<tspan font-style="italic">Gemella</tspan> spp.)</text>
<line x1="1287.0" y1="1156.3" x2="1298.1" y2="1156.3" stroke="#000" stroke-width="2.2"/>
<rect x="1298.1" y="1149.1" width="80.3" height="14.5" fill="#00C000" stroke="#111" stroke-width="1.4"/>
<text x="1284.4" y="1161.6" font-size="14.95" text-anchor="end">ASV_46 (<tspan font-style="italic">Lactobacillus casei</tspan> group)</text>
<line x1="1287.0" y1="1179.2" x2="1298.1" y2="1179.2" stroke="#000" stroke-width="2.2"/>
<rect x="1298.1" y="1171.9" width="80.3" height="14.5" fill="#55A5FF" stroke="#111" stroke-width="1.4"/>
<text x="1284.4" y="1184.5" font-size="14.95" text-anchor="end">ASV_67 (<tspan font-style="italic">Actinomyces</tspan> spp.)</text>
<line x1="1287.0" y1="1202.0" x2="1298.1" y2="1202.0" stroke="#000" stroke-width="2.2"/>
<rect x="1298.1" y="1194.8" width="80.3" height="14.5" fill="#CC0066" stroke="#111" stroke-width="1.4"/>
<text x="1284.4" y="1207.3" font-size="14.95" text-anchor="end">ASV_97 (<tspan font-style="italic">Veillonella</tspan> spp.)</text>
<line x1="1287.0" y1="1224.8" x2="1298.1" y2="1224.8" stroke="#000" stroke-width="2.2"/>
<rect x="1298.1" y="1217.6" width="66.8" height="14.5" fill="#FF8080" stroke="#111" stroke-width="1.4"/>
<text x="1284.4" y="1230.1" font-size="14.95" text-anchor="end">ASV_5 (<tspan font-style="italic">Propionibacterium acne</tspan>)</text>
<line x1="1287.0" y1="1247.7" x2="1298.1" y2="1247.7" stroke="#000" stroke-width="2.2"/>
<rect x="1298.1" y="1240.4" width="53.3" height="14.5" fill="#990000" stroke="#111" stroke-width="1.4"/>
<text x="1284.4" y="1253.0" font-size="14.95" text-anchor="end">ASV_19 (<tspan font-style="italic">Rothia mucilaginosa</tspan>)</text>
<line x1="1287.0" y1="1270.5" x2="1298.1" y2="1270.5" stroke="#000" stroke-width="2.2"/>
<rect x="1298.1" y="1263.2" width="53.3" height="14.5" fill="#CC0066" stroke="#111" stroke-width="1.4"/>
<text x="1284.4" y="1275.8" font-size="14.95" text-anchor="end">ASV_21 (<tspan font-style="italic">Veillonella</tspan> spp.)</text>
<line x1="1287.0" y1="1293.3" x2="1298.1" y2="1293.3" stroke="#000" stroke-width="2.2"/>
<rect x="1298.1" y="1286.1" width="53.3" height="14.5" fill="#C4C000" stroke="#111" stroke-width="1.4"/>
<text x="1284.4" y="1298.6" font-size="14.95" text-anchor="end">ASV_139 (<tspan font-style="italic">Streptococcus thermophilus</tspan>)</text>
<line x1="1287.0" y1="1316.2" x2="1298.1" y2="1316.2" stroke="#000" stroke-width="2.2"/>
<rect x="1298.1" y="1308.9" width="53.3" height="14.5" fill="#C4C000" stroke="#111" stroke-width="1.4"/>
<text x="1284.4" y="1321.5" font-size="14.95" text-anchor="end">ASV_165 (<tspan font-style="italic">Streptococcus parasanguinis</tspan>)</text>
<line x1="1287.0" y1="1339.0" x2="1298.1" y2="1339.0" stroke="#000" stroke-width="2.2"/>
<rect x="1298.1" y="1331.7" width="53.3" height="14.5" fill="#C4C000" stroke="#111" stroke-width="1.4"/>
<text x="1284.4" y="1344.3" font-size="14.95" text-anchor="end">ASV_188 (<tspan font-style="italic">Streptococcus</tspan> spp.)</text>
<line x1="1287.0" y1="1361.8" x2="1298.1" y2="1361.8" stroke="#000" stroke-width="2.2"/>
<rect x="1298.1" y="1354.6" width="53.3" height="14.5" fill="#CC0066" stroke="#111" stroke-width="1.4"/>
<text x="1284.4" y="1367.1" font-size="14.95" text-anchor="end">ASV_251 (<tspan font-style="italic">Veillonella rogosae</tspan>)</text>
<line x1="1287.0" y1="1384.7" x2="1298.1" y2="1384.7" stroke="#000" stroke-width="2.2"/>
<rect x="1298.1" y="1377.4" width="53.3" height="14.5" fill="#55A5FF" stroke="#111" stroke-width="1.4"/>
<text x="1284.4" y="1390.0" font-size="14.95" text-anchor="end">ASV_257 (<tspan font-style="italic">Actinomyces</tspan> spp.)</text>
<line x1="1287.0" y1="1407.5" x2="1298.1" y2="1407.5" stroke="#000" stroke-width="2.2"/>
<rect x="1298.1" y="1400.2" width="53.3" height="14.5" fill="#EBE5C8" stroke="#111" stroke-width="1.4"/>
<text x="1284.4" y="1412.8" font-size="14.95" text-anchor="end">ASV_378 (<tspan font-style="italic">Haemophilus</tspan> spp.)</text>
<line x1="1287.0" y1="1430.3" x2="1298.1" y2="1430.3" stroke="#000" stroke-width="2.2"/>
<rect x="1298.1" y="1423.1" width="53.3" height="14.5" fill="#EBE5C8" stroke="#111" stroke-width="1.4"/>
<text x="1284.4" y="1435.6" font-size="14.95" text-anchor="end">ASV_535 (<tspan font-style="italic">Haemophilus</tspan> spp.)</text>
<text x="1801.5" y="741.2" font-size="14.8" font-weight="bold" text-anchor="middle">Average relative</text>
<text x="1801.5" y="757.7" font-size="14.0" font-weight="bold" text-anchor="middle">abundance of ASV (%)</text>
<line x1="1666.1" y1="797.8" x2="1937.6" y2="797.8" stroke="#000" stroke-width="2.2"/>
<line x1="1667.1" y1="787.8" x2="1667.1" y2="798.8" stroke="#000" stroke-width="2.2"/>
<text x="1667.1" y="785.6" font-size="13.8" font-weight="bold" text-anchor="middle">0.001</text>
<line x1="1721.0" y1="787.8" x2="1721.0" y2="798.8" stroke="#000" stroke-width="2.2"/>
<text x="1721.0" y="785.6" font-size="13.8" font-weight="bold" text-anchor="middle">0.01</text>
<line x1="1774.9" y1="787.8" x2="1774.9" y2="798.8" stroke="#000" stroke-width="2.2"/>
<text x="1774.9" y="785.6" font-size="13.8" font-weight="bold" text-anchor="middle">0.1</text>
<line x1="1828.8" y1="787.8" x2="1828.8" y2="798.8" stroke="#000" stroke-width="2.2"/>
<text x="1828.8" y="785.6" font-size="13.8" font-weight="bold" text-anchor="middle">1</text>
<line x1="1882.7" y1="787.8" x2="1882.7" y2="798.8" stroke="#000" stroke-width="2.2"/>
<text x="1882.7" y="785.6" font-size="13.8" font-weight="bold" text-anchor="middle">10</text>
<line x1="1936.6" y1="787.8" x2="1936.6" y2="798.8" stroke="#000" stroke-width="2.2"/>
<text x="1936.6" y="785.6" font-size="13.8" font-weight="bold" text-anchor="middle">100</text>
<line x1="1667.1" y1="796.8" x2="1667.1" y2="1447.0" stroke="#000" stroke-width="2.2"/>
<line x1="1655.9" y1="813.4" x2="1667.1" y2="813.4" stroke="#000" stroke-width="2.2"/>
<line x1="1655.9" y1="836.3" x2="1667.1" y2="836.3" stroke="#000" stroke-width="2.2"/>
<line x1="1655.9" y1="859.1" x2="1667.1" y2="859.1" stroke="#000" stroke-width="2.2"/>
<line x1="1655.9" y1="882.0" x2="1667.1" y2="882.0" stroke="#000" stroke-width="2.2"/>
<line x1="1655.9" y1="904.8" x2="1667.1" y2="904.8" stroke="#000" stroke-width="2.2"/>
<line x1="1655.9" y1="927.7" x2="1667.1" y2="927.7" stroke="#000" stroke-width="2.2"/>
<line x1="1655.9" y1="950.6" x2="1667.1" y2="950.6" stroke="#000" stroke-width="2.2"/>
<line x1="1655.9" y1="973.4" x2="1667.1" y2="973.4" stroke="#000" stroke-width="2.2"/>
<line x1="1655.9" y1="996.3" x2="1667.1" y2="996.3" stroke="#000" stroke-width="2.2"/>
<line x1="1655.9" y1="1019.1" x2="1667.1" y2="1019.1" stroke="#000" stroke-width="2.2"/>
<line x1="1655.9" y1="1042.0" x2="1667.1" y2="1042.0" stroke="#000" stroke-width="2.2"/>
<line x1="1655.9" y1="1064.9" x2="1667.1" y2="1064.9" stroke="#000" stroke-width="2.2"/>
<line x1="1655.9" y1="1087.7" x2="1667.1" y2="1087.7" stroke="#000" stroke-width="2.2"/>
<line x1="1655.9" y1="1110.6" x2="1667.1" y2="1110.6" stroke="#000" stroke-width="2.2"/>
<line x1="1655.9" y1="1133.4" x2="1667.1" y2="1133.4" stroke="#000" stroke-width="2.2"/>
<line x1="1655.9" y1="1156.3" x2="1667.1" y2="1156.3" stroke="#000" stroke-width="2.2"/>
<line x1="1655.9" y1="1179.2" x2="1667.1" y2="1179.2" stroke="#000" stroke-width="2.2"/>
<line x1="1655.9" y1="1202.0" x2="1667.1" y2="1202.0" stroke="#000" stroke-width="2.2"/>
<line x1="1655.9" y1="1224.9" x2="1667.1" y2="1224.9" stroke="#000" stroke-width="2.2"/>
<line x1="1655.9" y1="1247.7" x2="1667.1" y2="1247.7" stroke="#000" stroke-width="2.2"/>
<line x1="1655.9" y1="1270.6" x2="1667.1" y2="1270.6" stroke="#000" stroke-width="2.2"/>
<line x1="1655.9" y1="1293.5" x2="1667.1" y2="1293.5" stroke="#000" stroke-width="2.2"/>
<line x1="1655.9" y1="1316.3" x2="1667.1" y2="1316.3" stroke="#000" stroke-width="2.2"/>
<line x1="1655.9" y1="1339.2" x2="1667.1" y2="1339.2" stroke="#000" stroke-width="2.2"/>
<line x1="1655.9" y1="1362.0" x2="1667.1" y2="1362.0" stroke="#000" stroke-width="2.2"/>
<line x1="1655.9" y1="1384.9" x2="1667.1" y2="1384.9" stroke="#000" stroke-width="2.2"/>
<line x1="1655.9" y1="1407.8" x2="1667.1" y2="1407.8" stroke="#000" stroke-width="2.2"/>
<line x1="1655.9" y1="1430.6" x2="1667.1" y2="1430.6" stroke="#000" stroke-width="2.2"/>
<circle cx="1839.4" cy="813.4" r="4.8" fill="#A00000" stroke="#000" stroke-width="1"/>
<circle cx="1795.7" cy="836.3" r="4.8" fill="#A00000" stroke="#000" stroke-width="1"/>
<circle cx="1751.2" cy="859.1" r="4.8" fill="#A00000" stroke="#000" stroke-width="1"/>
<circle cx="1849.3" cy="882.0" r="4.8" fill="#A00000" stroke="#000" stroke-width="1"/>
<circle cx="1732.8" cy="904.8" r="4.8" fill="#A00000" stroke="#000" stroke-width="1"/>
<circle cx="1732.8" cy="927.7" r="4.8" fill="#A00000" stroke="#000" stroke-width="1"/>
<circle cx="1852.3" cy="950.6" r="4.8" fill="#A00000" stroke="#000" stroke-width="1"/>
<circle cx="1757.8" cy="973.4" r="4.8" fill="#A00000" stroke="#000" stroke-width="1"/>
<circle cx="1891.3" cy="996.3" r="4.8" fill="#A00000" stroke="#000" stroke-width="1"/>
<circle cx="1830.8" cy="1019.1" r="4.8" fill="#A00000" stroke="#000" stroke-width="1"/>
<circle cx="1723.3" cy="1042.0" r="4.8" fill="#A00000" stroke="#000" stroke-width="1"/>
<circle cx="1770.7" cy="1064.9" r="4.8" fill="#A00000" stroke="#000" stroke-width="1"/>
<circle cx="1779.6" cy="1087.7" r="4.8" fill="#A00000" stroke="#000" stroke-width="1"/>
<circle cx="1871.2" cy="1110.6" r="4.8" fill="#A00000" stroke="#000" stroke-width="1"/>
<circle cx="1688.4" cy="1133.4" r="4.8" fill="#A00000" stroke="#000" stroke-width="1"/>
<circle cx="1834.8" cy="1156.3" r="4.8" fill="#A00000" stroke="#000" stroke-width="1"/>
<circle cx="1721.2" cy="1179.2" r="4.8" fill="#A00000" stroke="#000" stroke-width="1"/>
<circle cx="1736.3" cy="1202.0" r="4.8" fill="#A00000" stroke="#000" stroke-width="1"/>
<circle cx="1696.8" cy="1224.9" r="4.8" fill="#A00000" stroke="#000" stroke-width="1"/>
<circle cx="1669.3" cy="1247.7" r="4.8" fill="#A00000" stroke="#000" stroke-width="1"/>
<circle cx="1854.4" cy="1270.6" r="4.8" fill="#A00000" stroke="#000" stroke-width="1"/>
<circle cx="1775.3" cy="1293.5" r="4.8" fill="#A00000" stroke="#000" stroke-width="1"/>
<circle cx="1701.8" cy="1316.3" r="4.8" fill="#A00000" stroke="#000" stroke-width="1"/>
<circle cx="1701.8" cy="1339.2" r="4.8" fill="#A00000" stroke="#000" stroke-width="1"/>
<circle cx="1744.2" cy="1362.0" r="4.8" fill="#A00000" stroke="#000" stroke-width="1"/>
<circle cx="1703.2" cy="1384.9" r="4.8" fill="#A00000" stroke="#000" stroke-width="1"/>
<circle cx="1708.2" cy="1407.8" r="4.8" fill="#A00000" stroke="#000" stroke-width="1"/>
<circle cx="1735.5" cy="1430.6" r="4.8" fill="#A00000" stroke="#000" stroke-width="1"/>
<polyline points="1851.4,813.4 1871.0,836.3 1898.3,859.1 1787.8,882.0 1861.1,904.8 1834.4,927.7 1801.3,950.6 1850.6,973.4 1754.6,996.3 1779.0,1019.1 1843.9,1042.0 1809.7,1064.9 1774.8,1087.7 1734.5,1110.6 1833.2,1133.4 1716.2,1156.3 1815.8,1179.2 1809.7,1202.0 1885.8,1224.9 1839.8,1247.7 1740.0,1270.6 1726.1,1293.5 1804.6,1316.3 1798.4,1339.2 1781.4,1362.0 1763.8,1384.9 1753.3,1407.8 1700.4,1430.6" fill="none" stroke="#000" stroke-width="2"/>
<circle cx="1851.4" cy="813.4" r="4.8" fill="#0000FF" stroke="#000" stroke-width="1"/>
<circle cx="1871.0" cy="836.3" r="4.8" fill="#0000FF" stroke="#000" stroke-width="1"/>
<circle cx="1898.3" cy="859.1" r="4.8" fill="#0000FF" stroke="#000" stroke-width="1"/>
<circle cx="1787.8" cy="882.0" r="4.8" fill="#0000FF" stroke="#000" stroke-width="1"/>
<circle cx="1861.1" cy="904.8" r="4.8" fill="#0000FF" stroke="#000" stroke-width="1"/>
<circle cx="1834.4" cy="927.7" r="4.8" fill="#0000FF" stroke="#000" stroke-width="1"/>
<circle cx="1801.3" cy="950.6" r="4.8" fill="#0000FF" stroke="#000" stroke-width="1"/>
<circle cx="1850.6" cy="973.4" r="4.8" fill="#0000FF" stroke="#000" stroke-width="1"/>
<circle cx="1754.6" cy="996.3" r="4.8" fill="#0000FF" stroke="#000" stroke-width="1"/>
<circle cx="1779.0" cy="1019.1" r="4.8" fill="#0000FF" stroke="#000" stroke-width="1"/>
<circle cx="1843.9" cy="1042.0" r="4.8" fill="#0000FF" stroke="#000" stroke-width="1"/>
<circle cx="1809.7" cy="1064.9" r="4.8" fill="#0000FF" stroke="#000" stroke-width="1"/>
<circle cx="1774.8" cy="1087.7" r="4.8" fill="#0000FF" stroke="#000" stroke-width="1"/>
<circle cx="1734.5" cy="1110.6" r="4.8" fill="#0000FF" stroke="#000" stroke-width="1"/>
<circle cx="1833.2" cy="1133.4" r="4.8" fill="#0000FF" stroke="#000" stroke-width="1"/>
<circle cx="1716.2" cy="1156.3" r="4.8" fill="#0000FF" stroke="#000" stroke-width="1"/>
<circle cx="1815.8" cy="1179.2" r="4.8" fill="#0000FF" stroke="#000" stroke-width="1"/>
<circle cx="1809.7" cy="1202.0" r="4.8" fill="#0000FF" stroke="#000" stroke-width="1"/>
<circle cx="1885.8" cy="1224.9" r="4.8" fill="#0000FF" stroke="#000" stroke-width="1"/>
<circle cx="1839.8" cy="1247.7" r="4.8" fill="#0000FF" stroke="#000" stroke-width="1"/>
<circle cx="1740.0" cy="1270.6" r="4.8" fill="#0000FF" stroke="#000" stroke-width="1"/>
<circle cx="1726.1" cy="1293.5" r="4.8" fill="#0000FF" stroke="#000" stroke-width="1"/>
<circle cx="1804.6" cy="1316.3" r="4.8" fill="#0000FF" stroke="#000" stroke-width="1"/>
<circle cx="1798.4" cy="1339.2" r="4.8" fill="#0000FF" stroke="#000" stroke-width="1"/>
<circle cx="1781.4" cy="1362.0" r="4.8" fill="#0000FF" stroke="#000" stroke-width="1"/>
<circle cx="1763.8" cy="1384.9" r="4.8" fill="#0000FF" stroke="#000" stroke-width="1"/>
<circle cx="1753.3" cy="1407.8" r="4.8" fill="#0000FF" stroke="#000" stroke-width="1"/>
<circle cx="1700.4" cy="1430.6" r="4.8" fill="#0000FF" stroke="#000" stroke-width="1"/>
<rect x="1820.8" y="1402.6" width="113.1" height="39.2" fill="#fff" stroke="#000" stroke-width="2.4"/>
<line x1="1826.1" y1="1412.5" x2="1854.9" y2="1412.5" stroke="#000" stroke-width="2"/>
<circle cx="1840.3" cy="1412.5" r="4.8" fill="#0000FF" stroke="#000" stroke-width="1"/>
<circle cx="1840.3" cy="1430.8" r="4.8" fill="#A00000" stroke="#000" stroke-width="1"/>
<text x="1871.8" y="1416.8" font-size="9.7" font-weight="bold" text-anchor="start">Hindmilk (%)</text>
<text x="1871.8" y="1434.7" font-size="9.7" font-weight="bold" xml:space="preserve">Feces  (%)</text>
</svg>
</body></html>
